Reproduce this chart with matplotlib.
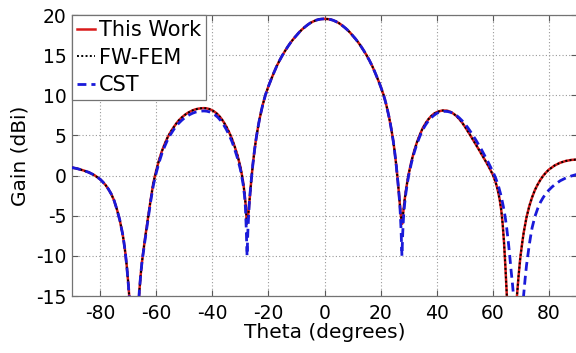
import matplotlib
matplotlib.use("Agg")
import matplotlib.pyplot as plt

# ---------------- data ----------------
# main lobe (shared by all three solvers)
theta_main = [-26.5, -26, -25.5, -25, -24.5, -24, -23.5, -23, -22.5, -22, -21.5, -21, -20, -19, -18, -17,
              -16, -15, -14, -13, -12, -11, -10, -9, -8, -7, -6, -5, -4, -3, -2, -1, 0,
              1, 2, 3, 4, 5, 6, 7, 8, 9, 10, 11, 12, 13, 14, 15, 16, 17, 18, 19, 20, 21, 21.5, 22,
              22.5, 23, 23.5, 24, 24.5, 25, 25.5, 26, 26.5]
gain_main = [-2.1, -0.2, 1.5, 3.0, 4.3, 5.4, 6.4, 7.3, 8.1, 8.85, 9.5, 10.1, 11.1, 12.0, 12.85, 13.65,
             14.35, 14.98, 15.56, 16.1, 16.6, 17.05, 17.45, 17.85, 18.2, 18.5, 18.78, 19.02, 19.2, 19.35, 19.45, 19.5, 19.52,
             19.5, 19.45, 19.35, 19.2, 19.02, 18.78, 18.5, 18.2, 17.85, 17.45, 17.05, 16.6, 16.1, 15.56, 14.98, 14.35, 13.65, 12.85, 12.0, 11.1, 10.1, 9.5, 8.85,
             8.1, 7.3, 6.4, 5.4, 4.3, 3.0, 1.5, -0.2, -2.1]

# This Work: left side lobes
theta_this_left = [-90, -88, -86, -84, -82, -80, -79, -78, -77, -76, -75, -74, -73, -72, -71.5, -71, -70.5,
                   -70, -69.6, -68.7, -67.8, -67, -66.5, -66, -65.5, -65, -64.5, -64, -63, -62, -61, -60,
                   -59, -58, -57, -56, -55, -54, -53, -52, -51, -50, -49, -48, -47, -46, -45, -44, -43,
                   -42, -41, -40, -39, -38, -37, -36, -35, -34, -33, -32, -31, -30, -29.5, -29, -28.5,
                   -28, -27.7, -27.4, -27.1, -26.8]
gain_this_left = [1.0, 0.85, 0.65, 0.4, 0.05, -0.45, -0.8, -1.2, -1.7, -2.3, -3.1, -4.2, -5.5, -7.2, -8.3, -9.6, -11.2,
                  -13.2, -15, -22, -30, -21, -17.5, -14.4, -12.3, -10.6, -9.2, -7.9, -5.5, -3.1, -0.9, 0.6,
                  1.9, 3.0, 3.9, 4.7, 5.35, 5.9, 6.4, 6.85, 7.2, 7.5, 7.75, 7.95, 8.12, 8.25, 8.33, 8.38, 8.4,
                  8.37, 8.28, 8.12, 7.9, 7.6, 7.2, 6.7, 6.1, 5.4, 4.6, 3.6, 2.5, 1.1, 0.2, -0.8, -2.2,
                  -4.0, -6.0, -5.5, -4.6, -3.4]
# This Work: right side lobes
theta_this_right = [26.8, 27.1, 27.4, 27.7, 28.0, 28.5, 29, 29.5, 30, 31, 32, 33, 34, 35, 36, 37, 38, 39, 40,
                    41, 42, 43, 44, 45, 46, 47, 48, 49, 50, 51, 52, 53, 54, 55, 56, 57, 58, 59, 60, 60.5,
                    61, 61.5, 62, 62.5, 63, 63.5, 64, 64.5, 65, 66, 66.8, 67.6, 68.6, 69.2, 69.8, 70.5, 71,
                    72, 73, 74, 75, 76, 77, 78, 79, 80, 82, 84, 86, 88, 90]
gain_this_right = [-3.4, -4.6, -5.5, -6.0, -4.8, -3.2, -1.9, -0.8, 0.2, 1.8, 3.1, 4.2, 5.1, 5.9, 6.5, 7.0, 7.4, 7.7, 7.9,
                   8.02, 8.1, 8.1, 8.05, 7.92, 7.7, 7.42, 7.05, 6.62, 6.12, 5.57, 5.0, 4.42, 3.84, 3.25, 2.65, 2.05, 1.45, 0.8, 0.1, -0.35,
                   -0.85, -1.45, -2.2, -3.1, -4.3, -6.0, -8.4, -11.5, -15, -22, -30, -22, -15, -12.4, -10.2, -8.3, -7.1,
                   -5.2, -3.8, -2.7, -1.8, -1.1, -0.5, 0.0, 0.4, 0.75, 1.25, 1.6, 1.82, 1.95, 2.0]

# FW-FEM (overlaps This Work)
theta_fwfem_left = list(theta_this_left)
gain_fwfem_left = list(gain_this_left)
theta_fwfem_right = list(theta_this_right)
gain_fwfem_right = list(gain_this_right)

# CST
theta_cst_left = [-90, -88, -86, -84, -82, -80, -79, -78, -77, -76, -75, -74, -73, -72, -71.5, -71, -70.5,
                  -70, -69.6, -68.7, -67.8, -67, -66.5, -66, -65.5, -65, -64.5, -64, -63, -62, -61, -60,
                  -59, -58, -57, -56, -55, -54, -53, -52, -51, -50, -49, -48, -47, -46, -45, -44, -43,
                  -42, -41, -40, -39, -38, -37, -36, -35, -34, -33, -32, -31, -30, -29.5, -29, -28.5,
                  -28.2, -27.9, -27.6, -27.3, -27.0, -26.8]
gain_cst_left = [1.0, 0.85, 0.65, 0.4, 0.05, -0.45, -0.8, -1.2, -1.7, -2.3, -3.1, -4.2, -5.5, -7.2, -8.3, -9.6, -11.2,
                 -13.2, -15, -22, -30, -21, -17.5, -14.4, -12.3, -10.6, -9.4, -8.1, -5.7, -3.3, -1.2, 0.3,
                 1.6, 2.7, 3.6, 4.4, 5.05, 5.6, 6.1, 6.5, 6.85, 7.15, 7.4, 7.6, 7.77, 7.9, 7.98, 8.03, 8.05,
                 8.02, 7.93, 7.77, 7.55, 7.25, 6.85, 6.35, 5.75, 5.05, 4.25, 3.25, 2.15, 0.8, -0.1, -1.1, -2.5,
                 -3.9, -6.5, -10.0, -6.8, -4.6, -3.4]
theta_cst_right = [26.8, 27.0, 27.3, 27.6, 27.9, 28.2, 28.6, 29, 29.5, 30, 31, 32, 33, 34, 35, 36, 37, 38, 39,
                   40, 41, 42, 43, 44, 45, 46, 47, 48, 49, 50, 51, 52, 53, 54, 55, 56, 57, 58, 59, 60, 61,
                   62, 63, 64, 64.5, 65, 65.5, 66, 66.5, 67, 67.5, 68.4, 69.3, 70.2, 70.6, 71, 71.5, 72,
                   72.5, 73, 73.5, 74, 75, 76, 77, 78, 79, 80, 81, 82, 84, 86, 88, 90]
gain_cst_right = [-3.4, -4.6, -6.8, -10.0, -7.0, -5.0, -3.4, -2.2, -1.0, 0.0, 1.6, 2.9, 4.0, 4.9, 5.7, 6.3, 6.8, 7.2, 7.5,
                  7.75, 7.9, 7.98, 8.0, 7.97, 7.88, 7.72, 7.5, 7.2, 6.85, 6.45, 6.0, 5.5, 4.95, 4.4, 3.8, 3.2, 2.55, 1.9, 1.2, 0.5, -0.3,
                  -1.3, -2.6, -4.3, -5.4, -6.7, -8.2, -9.9, -11.8, -13.5, -15.5, -22, -30, -21, -17, -14.8, -12.9, -11.2,
                  -9.9, -8.6, -7.5, -6.5, -5.1, -4.1, -3.3, -2.7, -2.2, -1.8, -1.45, -1.15, -0.65, -0.3, -0.05, 0.15]

x_ticks = [-80, -60, -40, -20, 0, 20, 40, 60, 80]
y_ticks = [-15, -10, -5, 0, 5, 10, 15, 20]
labels = ["This Work", "FW-FEM", "CST"]

# ---------------- figure ----------------
plt.rcParams['font.family'] = ['DejaVu Sans']
plt.rcParams['axes.unicode_minus'] = False
fig = plt.figure(figsize=(5.76, 3.53), dpi=100)
ax = fig.add_axes([72 / 576, 57 / 353, 505 / 576, 281 / 353])

th_this = theta_this_left + theta_main + theta_this_right
g_this = gain_this_left + gain_main + gain_this_right
th_fw = theta_fwfem_left + theta_main + theta_fwfem_right
g_fw = gain_fwfem_left + gain_main + gain_fwfem_right
th_cst = theta_cst_left + theta_main + theta_cst_right
g_cst = gain_cst_left + gain_main + gain_cst_right

ax.plot(th_this, g_this, color=(0.85, 0.1, 0.1), lw=1.8, label=labels[0], zorder=3)
ax.plot(th_fw, g_fw, color='black', lw=1.4, ls=(0, (1, 1.2)), label=labels[1], zorder=4)
ax.plot(th_cst, g_cst, color=(0.1, 0.1, 0.85), lw=2.0, ls=(0, (3.2, 1.8)), label=labels[2], zorder=5)

ax.set_xlim(-90, 90)
ax.set_ylim(-15, 20)
ax.set_xticks(x_ticks)
ax.set_yticks(y_ticks)
ax.grid(True, color='0.6', ls=(0, (1, 2)), lw=0.8)
ax.tick_params(direction='in', length=4, width=0.8, colors='0.35', labelcolor='black',
               labelsize=13.5, top=True, right=True)
ax.tick_params(axis='x', pad=6)
ax.tick_params(axis='y', pad=4)
for s in ax.spines.values():
    s.set_color('0.45')
    s.set_linewidth(0.9)

ax.set_xlabel("Theta (degrees)", fontsize=14.5, labelpad=0)
ax.set_ylabel("Gain (dBi)", fontsize=14.5, labelpad=5)

leg = ax.legend(loc='upper left', fontsize=15, borderaxespad=0, handlelength=0.85,
                handletextpad=0.2, borderpad=0.25, labelspacing=0.36, fancybox=False,
                framealpha=1, edgecolor='0.45')
leg.get_frame().set_linewidth(0.9)

fig.savefig("out.png", dpi=100)
